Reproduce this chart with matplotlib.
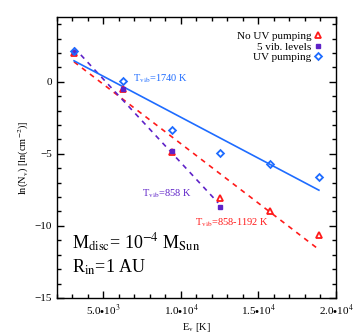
import matplotlib
matplotlib.use('Agg')
import matplotlib.pyplot as plt
from matplotlib.ticker import MultipleLocator, FixedLocator, FixedFormatter

plt.rcParams['font.family'] = ['Liberation Serif', 'DejaVu Serif']
plt.rcParams['mathtext.fontset'] = 'stix'

# level energies E_v [K]
energy = [3100, 6250, 9450, 12550, 15750, 18900]
# ln(N_v) for each model
no_uv = [1.99, -0.51, -4.85, -8.06, -8.94, -10.65]
vib5 = [2.06, -0.50, -4.80, -8.68]
uv_pump = [2.17, 0.07, -3.35, -4.95, -5.69, -6.60]

# fitted lines (end points)
fit_uv_E = [3100, 18900]
fit_uv_N = [1.46, -7.52]
fit_no_uv_E = [3100, 18900]
fit_no_uv_N = [1.39, -11.64]
fit_vib5_E = [3100, 12400]
fit_vib5_N = [2.38, -8.40]

red = '#ff1a1a'
purple = '#5e22c8'
blue = '#1e6cff'

fig = plt.figure(figsize=(3.54, 3.34), dpi=100)
ax = fig.add_axes([0.161, 0.108, 0.788, 0.841])

ax.plot(fit_no_uv_E, fit_no_uv_N, color=red, ls=(0, (3, 3)), lw=1.2)
ax.plot(fit_vib5_E, fit_vib5_N, color=purple, ls=(0, (3, 3)), lw=1.2)
ax.plot(fit_uv_E, fit_uv_N, color=blue, lw=1.2)

ax.plot(energy, no_uv, ls='none', marker='^', ms=4.5, mfc='none', mec=red, mew=1.3,
        label='No UV pumping')
ax.plot(energy[:len(vib5)], vib5, ls='none', marker='s', ms=3.5, color=purple,
        mec=purple, label='5 vib. levels')
ax.plot(energy, uv_pump, ls='none', marker='D', ms=3.5, mfc='none', mec=blue, mew=1.3,
        label='UV pumping')

ax.set_xlim(2000, 20000)
ax.set_ylim(-15, 4.5)

ax.xaxis.set_major_locator(FixedLocator([5000, 10000, 15000, 20000]))
ax.xaxis.set_major_formatter(FixedFormatter([r'5.0$\bullet$10$^3$', r'1.0$\bullet$10$^4$',
                                             r'1.5$\bullet$10$^4$', r'2.0$\bullet$10$^4$']))
ax.xaxis.set_minor_locator(MultipleLocator(1000))
ax.yaxis.set_major_locator(MultipleLocator(5))
ax.yaxis.set_minor_locator(MultipleLocator(1))
ax.tick_params(which='both', direction='in', top=True, right=True, labelsize=8, width=1)
ax.tick_params(which='major', length=5)
ax.tick_params(which='minor', length=3)
for s in ax.spines.values():
    s.set_linewidth(1)

ax.set_xlabel(r'E$_\mathrm{v}$ [K]', fontsize=7.5, labelpad=2)
ax.set_ylabel(r'ln(N$_\mathrm{v}$) [ln(cm$^{-2}$)]', fontsize=7.5, labelpad=3)

ax.text(6900, 0.2, r'T$_\mathrm{vib}$=1740 K', color=blue, fontsize=7.5, va='center')
ax.text(7500, -7.8, r'T$_\mathrm{vib}$=858 K', color=purple, fontsize=7.5, va='center')
ax.text(10900, -9.75, r'T$_\mathrm{vib}$=858-1192 K', color=red, fontsize=7.5, va='center')
ax.text(3000, -11.2, r'M$_\mathrm{disc}$= 10$^{-4}$ M$_\mathrm{Sun}$', fontsize=13, va='center')
ax.text(3000, -12.9, r'R$_\mathrm{in}$=1 AU', fontsize=13, va='center')

ax.legend(loc='upper right', frameon=False, markerfirst=False, fontsize=8,
          handlelength=0.6, handletextpad=0.3, labelspacing=0.05, borderaxespad=0.9)

plt.savefig('out.png', dpi=100)
